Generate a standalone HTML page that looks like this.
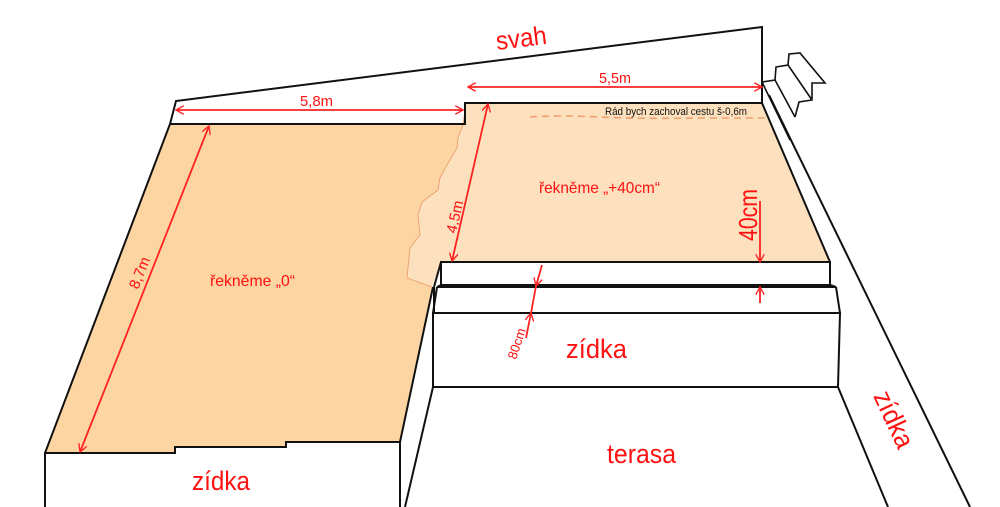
<!DOCTYPE html>
<html><head><meta charset="utf-8"><style>html,body{margin:0;padding:0;background:#fff}svg{display:block}</style></head>
<body>
<svg width="1000" height="507" viewBox="0 0 1000 507" xmlns="http://www.w3.org/2000/svg" font-family="Liberation Sans, Arial, sans-serif">
<defs>
<marker id="a" viewBox="0 0 10 10" refX="9" refY="5" markerWidth="9" markerHeight="9" orient="auto-start-reverse" markerUnits="userSpaceOnUse"><path d="M0,0 L9,5 L0,10" fill="none" stroke="#f22" stroke-width="1.5"/></marker>
</defs>
<polygon points="170,124 465,124 463,125 458,138 457,148 447,165 440,178 438,190 422,202 418,215 420,235 410,248 407,278 432,287 400,442 286,442 286,447 175,447 175,453 45,453" fill="#fdd5a2"/>
<polygon points="466,103 762,103 830,262 441,262 432,287 407,278 410,248 420,235 418,215 422,202 438,190 440,178 447,165 457,148 458,138 463,125" fill="#fde0bd"/>
<path d="M466,102 463,125 458,138 457,148 447,165 440,178 438,190 422,202 418,215 420,235 410,248 407,278 432,287" fill="none" stroke="#e89a6a" stroke-width="0.8"/>
<g fill="none" stroke="#111" stroke-width="2">
<polyline points="170,124 176,101 762,27 762,103"/>
<polyline points="170,124 465,124 465,103 762,103 830,262"/>
<polyline points="170,124 45,453 45,507"/>
<polyline points="45,453 175,453 175,447 286,447 286,442 400,442 400,507"/>
<line x1="400" y1="442" x2="433" y2="287"/>
<polygon points="441,262 830,262 830,285 441,285"/>
<line x1="441" y1="262" x2="434" y2="287"/>
<line x1="434" y1="287" x2="434" y2="313"/>
<polyline points="441,285 437,287 836,287 830,285"/>
<polyline points="437,287 433,313 840,313 836,287"/>
<line x1="433" y1="387" x2="405" y2="507"/>
<line x1="838" y1="387" x2="888" y2="507"/>
<line x1="769" y1="95" x2="970" y2="507"/>
</g>
<g fill="none" stroke="#111" stroke-width="1.6">
<polyline points="762,82 775,80 776,67 788,65 789,54 800,53 825,83 812,83 812,100 799,102 795,117"/>
<line x1="775" y1="80" x2="795" y2="117"/>
<line x1="788" y1="65" x2="812" y2="100"/>
<line x1="762" y1="82" x2="790" y2="140"/>
</g>
<polygon points="433,313 840,313 838,387 433,387" fill="#fff" stroke="#111" stroke-width="2"/>
<path d="M530,117 Q560,115 600,117 T700,118 L766,118" fill="none" stroke="#f0a070" stroke-width="1.6" stroke-dasharray="7,5"/>
<g stroke="#f22" stroke-width="1.8" fill="none">
<line x1="176" y1="110" x2="463" y2="110" marker-start="url(#a)" marker-end="url(#a)"/>
<line x1="468" y1="87" x2="762" y2="87" marker-start="url(#a)" marker-end="url(#a)"/>
<line x1="209" y1="126" x2="80" y2="452" marker-start="url(#a)" marker-end="url(#a)"/>
<line x1="488" y1="104" x2="452" y2="261" marker-start="url(#a)" marker-end="url(#a)"/>
<line x1="760" y1="201" x2="760" y2="262" marker-end="url(#a)"/>
<line x1="760" y1="303" x2="760" y2="287" marker-end="url(#a)"/>
<line x1="542" y1="265" x2="536" y2="286" marker-end="url(#a)"/>
<line x1="526" y1="338" x2="531" y2="313" marker-end="url(#a)"/>
<line x1="536" y1="286" x2="531" y2="313"/>
</g>
<g fill="#f11">
<text x="497" y="50" font-size="26" textLength="51" lengthAdjust="spacingAndGlyphs" transform="rotate(-7 497 50)">svah</text>
<text x="300" y="106" font-size="15" textLength="33" lengthAdjust="spacingAndGlyphs">5,8m</text>
<text x="599" y="83" font-size="15" textLength="32" lengthAdjust="spacingAndGlyphs">5,5m</text>
<text x="0" y="0" font-size="15" textLength="33" lengthAdjust="spacingAndGlyphs" transform="translate(138,290) rotate(-68)">8,7m</text>
<text x="0" y="0" font-size="15" textLength="33" lengthAdjust="spacingAndGlyphs" transform="translate(456,234) rotate(-77)">4,5m</text>
<text x="0" y="0" font-size="26" textLength="52" lengthAdjust="spacingAndGlyphs" transform="translate(757,241) rotate(-90)">40cm</text>
<text x="0" y="0" font-size="13" transform="translate(516,360) rotate(-72)">80cm</text>
<text x="210" y="286" font-size="16" textLength="85" lengthAdjust="spacingAndGlyphs">řekněme „0“</text>
<text x="539" y="193" font-size="16" textLength="121" lengthAdjust="spacingAndGlyphs">řekněme „+40cm“</text>
<text x="192" y="490" font-size="27" textLength="58" lengthAdjust="spacingAndGlyphs">zídka</text>
<text x="566" y="358" font-size="27" textLength="61" lengthAdjust="spacingAndGlyphs">zídka</text>
<text x="607" y="463" font-size="27" textLength="69" lengthAdjust="spacingAndGlyphs">terasa</text>
<text x="0" y="0" font-size="27" textLength="60" lengthAdjust="spacingAndGlyphs" transform="translate(873,396) rotate(65)">zídka</text>
</g>
<text x="605" y="115" font-size="11" fill="#111" textLength="142" lengthAdjust="spacingAndGlyphs">Rád bych zachoval cestu š-0,6m</text>
</svg>
</body></html>
